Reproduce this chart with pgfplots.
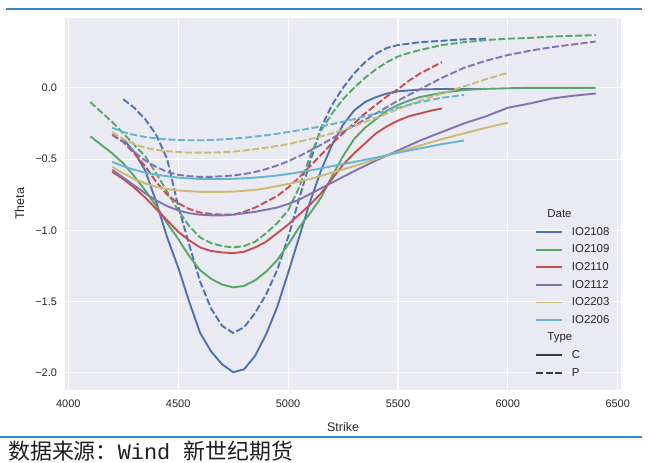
\documentclass[border=0pt]{standalone}
\usepackage{fontspec}
\setmainfont{Liberation Sans}
\newfontfamily\cjk{Noto Sans CJK SC}
\newfontfamily\mono{Liberation Mono}
\usepackage{pgfplots}
\pgfplotsset{compat=1.18}
\definecolor{sbblue}{HTML}{4C72B0}
\definecolor{sbgreen}{HTML}{55A868}
\definecolor{sbred}{HTML}{C44E52}
\definecolor{sbpurple}{HTML}{8172B2}
\definecolor{sbyellow}{HTML}{CCB974}
\definecolor{sbcyan}{HTML}{64B5CD}
\definecolor{axbg}{HTML}{EAEAF2}
\definecolor{txt}{HTML}{262626}
\definecolor{lgray}{HTML}{3A3A3A}
\definecolor{frameblue}{RGB}{59,135,200}
\begin{document}
\begin{tikzpicture}[x=1bp,y=1bp]
\path[use as bounding box] (0,0) rectangle (648,463);
\fill[white] (0,0) rectangle (648,463);
\draw[frameblue, line width=2bp] (6,454) -- (642,454);
\draw[frameblue, line width=2bp] (0,25.5) -- (642,25.5);
\node[anchor=base west, inner sep=0pt, text=black!88] at (8,3.5) {\cjk\fontsize{22}{22}\selectfont 数据来源：\mono Wind \cjk 新世纪期货};
\begin{axis}[at={(65bp,73bp)}, anchor=south west, scale only axis, width=556bp, height=372bp,
 xmin=3985, xmax=6515, ymin=-2.12, ymax=0.49,
 axis background/.style={fill=axbg},
 axis line style={draw=none},
 grid=major, grid style={white, line width=1.1bp},
 major tick length=0pt, tick style={draw=none},
 xtick={4000,4500,5000,5500,6000,6500}, xticklabels={4000,4500,5000,5500,6000,6500},
 ytick={-2,-1.5,-1,-0.5,0}, yticklabels={−2.0,−1.5,−1.0,−0.5,0.0},
 tick label style={font=\fontsize{11}{13}\selectfont, text=txt},
 xticklabel style={yshift=-6bp},
 yticklabel style={xshift=-4.5bp},
 xlabel={Strike}, ylabel={Theta},
 label style={font=\fontsize{12.5}{15}\selectfont, text=txt},
 xlabel style={at={(axis description cs:0.5,0)}, anchor=base, yshift=-42bp},
 ylabel style={at={(axis description cs:-0.0737,0.5)}, anchor=base},
 legend style={at={(0.8453,0.4955)}, anchor=north west, draw=none, fill=none, inner sep=0pt, outer sep=0pt,
   font=\fontsize{11.5}{13}\selectfont, text=txt, row sep=0pt, column sep=9bp,
   nodes={inner sep=0pt, text height=12bp, text depth=5.6bp}},
 legend cell align=left,
 legend image code/.code={\draw[#1] (0bp,0bp) -- (26bp,0bp);},
 every axis plot/.append style={line width=1.9bp, no markers},
]
% IO2108
\addplot[sbblue, forget plot] coordinates {(4250,-0.36)(4300,-0.45)(4350,-0.58)(4400,-0.80)(4450,-1.05)(4500,-1.26)(4550,-1.50)(4600,-1.72)(4650,-1.85)(4700,-1.94)(4750,-1.995)(4800,-1.975)(4850,-1.88)(4900,-1.73)(4950,-1.54)(5000,-1.30)(5050,-1.05)(5100,-0.80)(5150,-0.58)(5200,-0.40)(5250,-0.26)(5300,-0.16)(5350,-0.10)(5400,-0.065)(5450,-0.04)(5500,-0.025)(5600,-0.012)(5700,-0.008)(5800,-0.007)(5900,-0.007)};
\addplot[sbblue, dash pattern=on 7bp off 2.6bp, forget plot] coordinates {(4250,-0.08)(4300,-0.14)(4350,-0.22)(4400,-0.33)(4450,-0.50)(4500,-0.83)(4550,-1.10)(4600,-1.36)(4650,-1.55)(4700,-1.67)(4750,-1.72)(4800,-1.68)(4850,-1.58)(4900,-1.45)(4950,-1.28)(5000,-1.05)(5050,-0.78)(5100,-0.52)(5150,-0.28)(5200,-0.12)(5250,0.00)(5300,0.10)(5350,0.18)(5400,0.24)(5450,0.28)(5500,0.30)(5600,0.32)(5700,0.33)(5800,0.34)(5900,0.345)};
% IO2109
\addplot[sbgreen, forget plot] coordinates {(4100,-0.34)(4150,-0.40)(4200,-0.46)(4250,-0.53)(4300,-0.62)(4350,-0.72)(4400,-0.83)(4450,-0.95)(4500,-1.06)(4550,-1.18)(4600,-1.28)(4650,-1.34)(4700,-1.38)(4750,-1.40)(4800,-1.39)(4850,-1.35)(4900,-1.29)(4950,-1.21)(5000,-1.10)(5050,-0.98)(5100,-0.88)(5150,-0.77)(5200,-0.62)(5250,-0.48)(5300,-0.36)(5350,-0.28)(5400,-0.22)(5450,-0.16)(5500,-0.12)(5550,-0.09)(5600,-0.065)(5700,-0.035)(5800,-0.015)(5900,-0.007)(6000,-0.003)(6100,0)(6200,0)(6300,0)(6400,0)};
\addplot[sbgreen, dash pattern=on 7bp off 2.6bp, forget plot] coordinates {(4100,-0.10)(4150,-0.17)(4200,-0.24)(4250,-0.32)(4300,-0.40)(4350,-0.48)(4400,-0.60)(4450,-0.73)(4500,-0.86)(4550,-0.97)(4600,-1.05)(4650,-1.09)(4700,-1.11)(4750,-1.12)(4800,-1.11)(4850,-1.08)(4900,-1.02)(4950,-0.95)(5000,-0.86)(5050,-0.70)(5100,-0.48)(5150,-0.30)(5200,-0.18)(5250,-0.08)(5300,0.00)(5350,0.07)(5400,0.13)(5450,0.18)(5500,0.22)(5550,0.245)(5600,0.265)(5700,0.30)(5800,0.32)(5900,0.335)(6000,0.345)(6100,0.35)(6200,0.36)(6300,0.365)(6400,0.37)};
% IO2110
\addplot[sbred, forget plot] coordinates {(4200,-0.59)(4250,-0.64)(4300,-0.70)(4350,-0.77)(4400,-0.85)(4450,-0.93)(4500,-1.01)(4550,-1.07)(4600,-1.12)(4650,-1.145)(4700,-1.155)(4750,-1.16)(4800,-1.15)(4850,-1.12)(4900,-1.08)(4950,-1.02)(5000,-0.96)(5050,-0.89)(5100,-0.82)(5150,-0.74)(5200,-0.64)(5250,-0.54)(5300,-0.46)(5350,-0.39)(5400,-0.32)(5450,-0.27)(5500,-0.23)(5550,-0.20)(5600,-0.18)(5650,-0.16)(5700,-0.145)};
\addplot[sbred, dash pattern=on 7bp off 2.6bp, forget plot] coordinates {(4200,-0.33)(4250,-0.38)(4300,-0.46)(4350,-0.55)(4400,-0.66)(4450,-0.75)(4500,-0.81)(4550,-0.85)(4600,-0.875)(4650,-0.885)(4700,-0.89)(4750,-0.89)(4800,-0.87)(4850,-0.84)(4900,-0.80)(4950,-0.76)(5000,-0.70)(5050,-0.63)(5100,-0.55)(5150,-0.47)(5200,-0.39)(5250,-0.32)(5300,-0.25)(5350,-0.18)(5400,-0.12)(5450,-0.06)(5500,-0.01)(5550,0.05)(5600,0.10)(5650,0.14)(5700,0.18)};
% IO2112
\addplot[sbpurple, forget plot] coordinates {(4200,-0.575)(4250,-0.63)(4300,-0.685)(4350,-0.74)(4400,-0.79)(4450,-0.83)(4500,-0.86)(4550,-0.88)(4600,-0.89)(4650,-0.895)(4700,-0.895)(4750,-0.89)(4800,-0.88)(4850,-0.87)(4900,-0.855)(4950,-0.84)(5000,-0.815)(5050,-0.785)(5100,-0.745)(5150,-0.705)(5200,-0.665)(5250,-0.625)(5300,-0.585)(5400,-0.51)(5500,-0.44)(5600,-0.37)(5700,-0.31)(5800,-0.25)(5900,-0.20)(6000,-0.14)(6100,-0.11)(6200,-0.075)(6300,-0.055)(6400,-0.04)};
\addplot[sbpurple, dash pattern=on 7bp off 2.6bp, forget plot] coordinates {(4200,-0.33)(4250,-0.38)(4300,-0.45)(4350,-0.51)(4400,-0.555)(4450,-0.59)(4500,-0.61)(4550,-0.62)(4600,-0.625)(4650,-0.625)(4700,-0.62)(4750,-0.615)(4800,-0.605)(4850,-0.59)(4900,-0.57)(4950,-0.545)(5000,-0.515)(5050,-0.48)(5100,-0.44)(5150,-0.40)(5200,-0.355)(5250,-0.31)(5300,-0.265)(5400,-0.18)(5500,-0.09)(5600,-0.01)(5700,0.07)(5800,0.14)(5900,0.19)(6000,0.23)(6100,0.26)(6200,0.285)(6300,0.305)(6400,0.325)};
% IO2203
\addplot[sbyellow, forget plot] coordinates {(4200,-0.555)(4250,-0.60)(4300,-0.64)(4350,-0.67)(4400,-0.695)(4450,-0.71)(4500,-0.72)(4550,-0.725)(4600,-0.73)(4650,-0.73)(4700,-0.73)(4750,-0.728)(4800,-0.722)(4850,-0.715)(4900,-0.705)(4950,-0.69)(5000,-0.675)(5100,-0.64)(5200,-0.595)(5300,-0.55)(5400,-0.50)(5500,-0.45)(5600,-0.405)(5700,-0.36)(5800,-0.32)(5900,-0.28)(6000,-0.245)};
\addplot[sbyellow, dash pattern=on 7bp off 2.6bp, forget plot] coordinates {(4200,-0.31)(4250,-0.36)(4300,-0.395)(4350,-0.42)(4400,-0.435)(4450,-0.445)(4500,-0.45)(4550,-0.455)(4600,-0.455)(4650,-0.455)(4700,-0.452)(4750,-0.448)(4800,-0.44)(4850,-0.43)(4900,-0.42)(4950,-0.408)(5000,-0.395)(5100,-0.36)(5200,-0.32)(5300,-0.27)(5400,-0.21)(5500,-0.15)(5600,-0.09)(5700,-0.04)(5800,0.01)(5900,0.06)(6000,0.105)};
% IO2206
\addplot[sbcyan, forget plot] coordinates {(4200,-0.52)(4250,-0.55)(4300,-0.575)(4350,-0.595)(4400,-0.61)(4450,-0.62)(4500,-0.63)(4550,-0.635)(4600,-0.64)(4650,-0.64)(4700,-0.64)(4750,-0.638)(4800,-0.635)(4850,-0.63)(4900,-0.623)(4950,-0.615)(5000,-0.605)(5100,-0.58)(5200,-0.55)(5300,-0.52)(5400,-0.49)(5500,-0.455)(5600,-0.425)(5700,-0.395)(5800,-0.37)};
\addplot[sbcyan, dash pattern=on 7bp off 2.6bp, forget plot] coordinates {(4200,-0.28)(4250,-0.31)(4300,-0.33)(4350,-0.345)(4400,-0.355)(4450,-0.362)(4500,-0.366)(4550,-0.368)(4600,-0.368)(4650,-0.366)(4700,-0.362)(4750,-0.357)(4800,-0.35)(4850,-0.342)(4900,-0.333)(4950,-0.322)(5000,-0.31)(5100,-0.285)(5200,-0.255)(5300,-0.22)(5400,-0.18)(5500,-0.14)(5600,-0.10)(5700,-0.07)(5800,-0.05)};
% legend
\addlegendimage{empty legend}\addlegendentry{\makebox[0pt][l]{\kern-25bp Date}}
\addlegendimage{sbblue, line width=1.9bp}\addlegendentry{IO2108}
\addlegendimage{sbgreen, line width=1.9bp}\addlegendentry{IO2109}
\addlegendimage{sbred, line width=1.9bp}\addlegendentry{IO2110}
\addlegendimage{sbpurple, line width=1.9bp}\addlegendentry{IO2112}
\addlegendimage{sbyellow, line width=1.9bp}\addlegendentry{IO2203}
\addlegendimage{sbcyan, line width=1.9bp}\addlegendentry{IO2206}
\addlegendimage{empty legend}\addlegendentry{\makebox[0pt][l]{\kern-25bp Type}}
\addlegendimage{lgray, line width=1.9bp}\addlegendentry{C}
\addlegendimage{lgray, line width=1.9bp, dash pattern=on 7bp off 2.6bp}\addlegendentry{P}
\end{axis}
\end{tikzpicture}
\end{document}
